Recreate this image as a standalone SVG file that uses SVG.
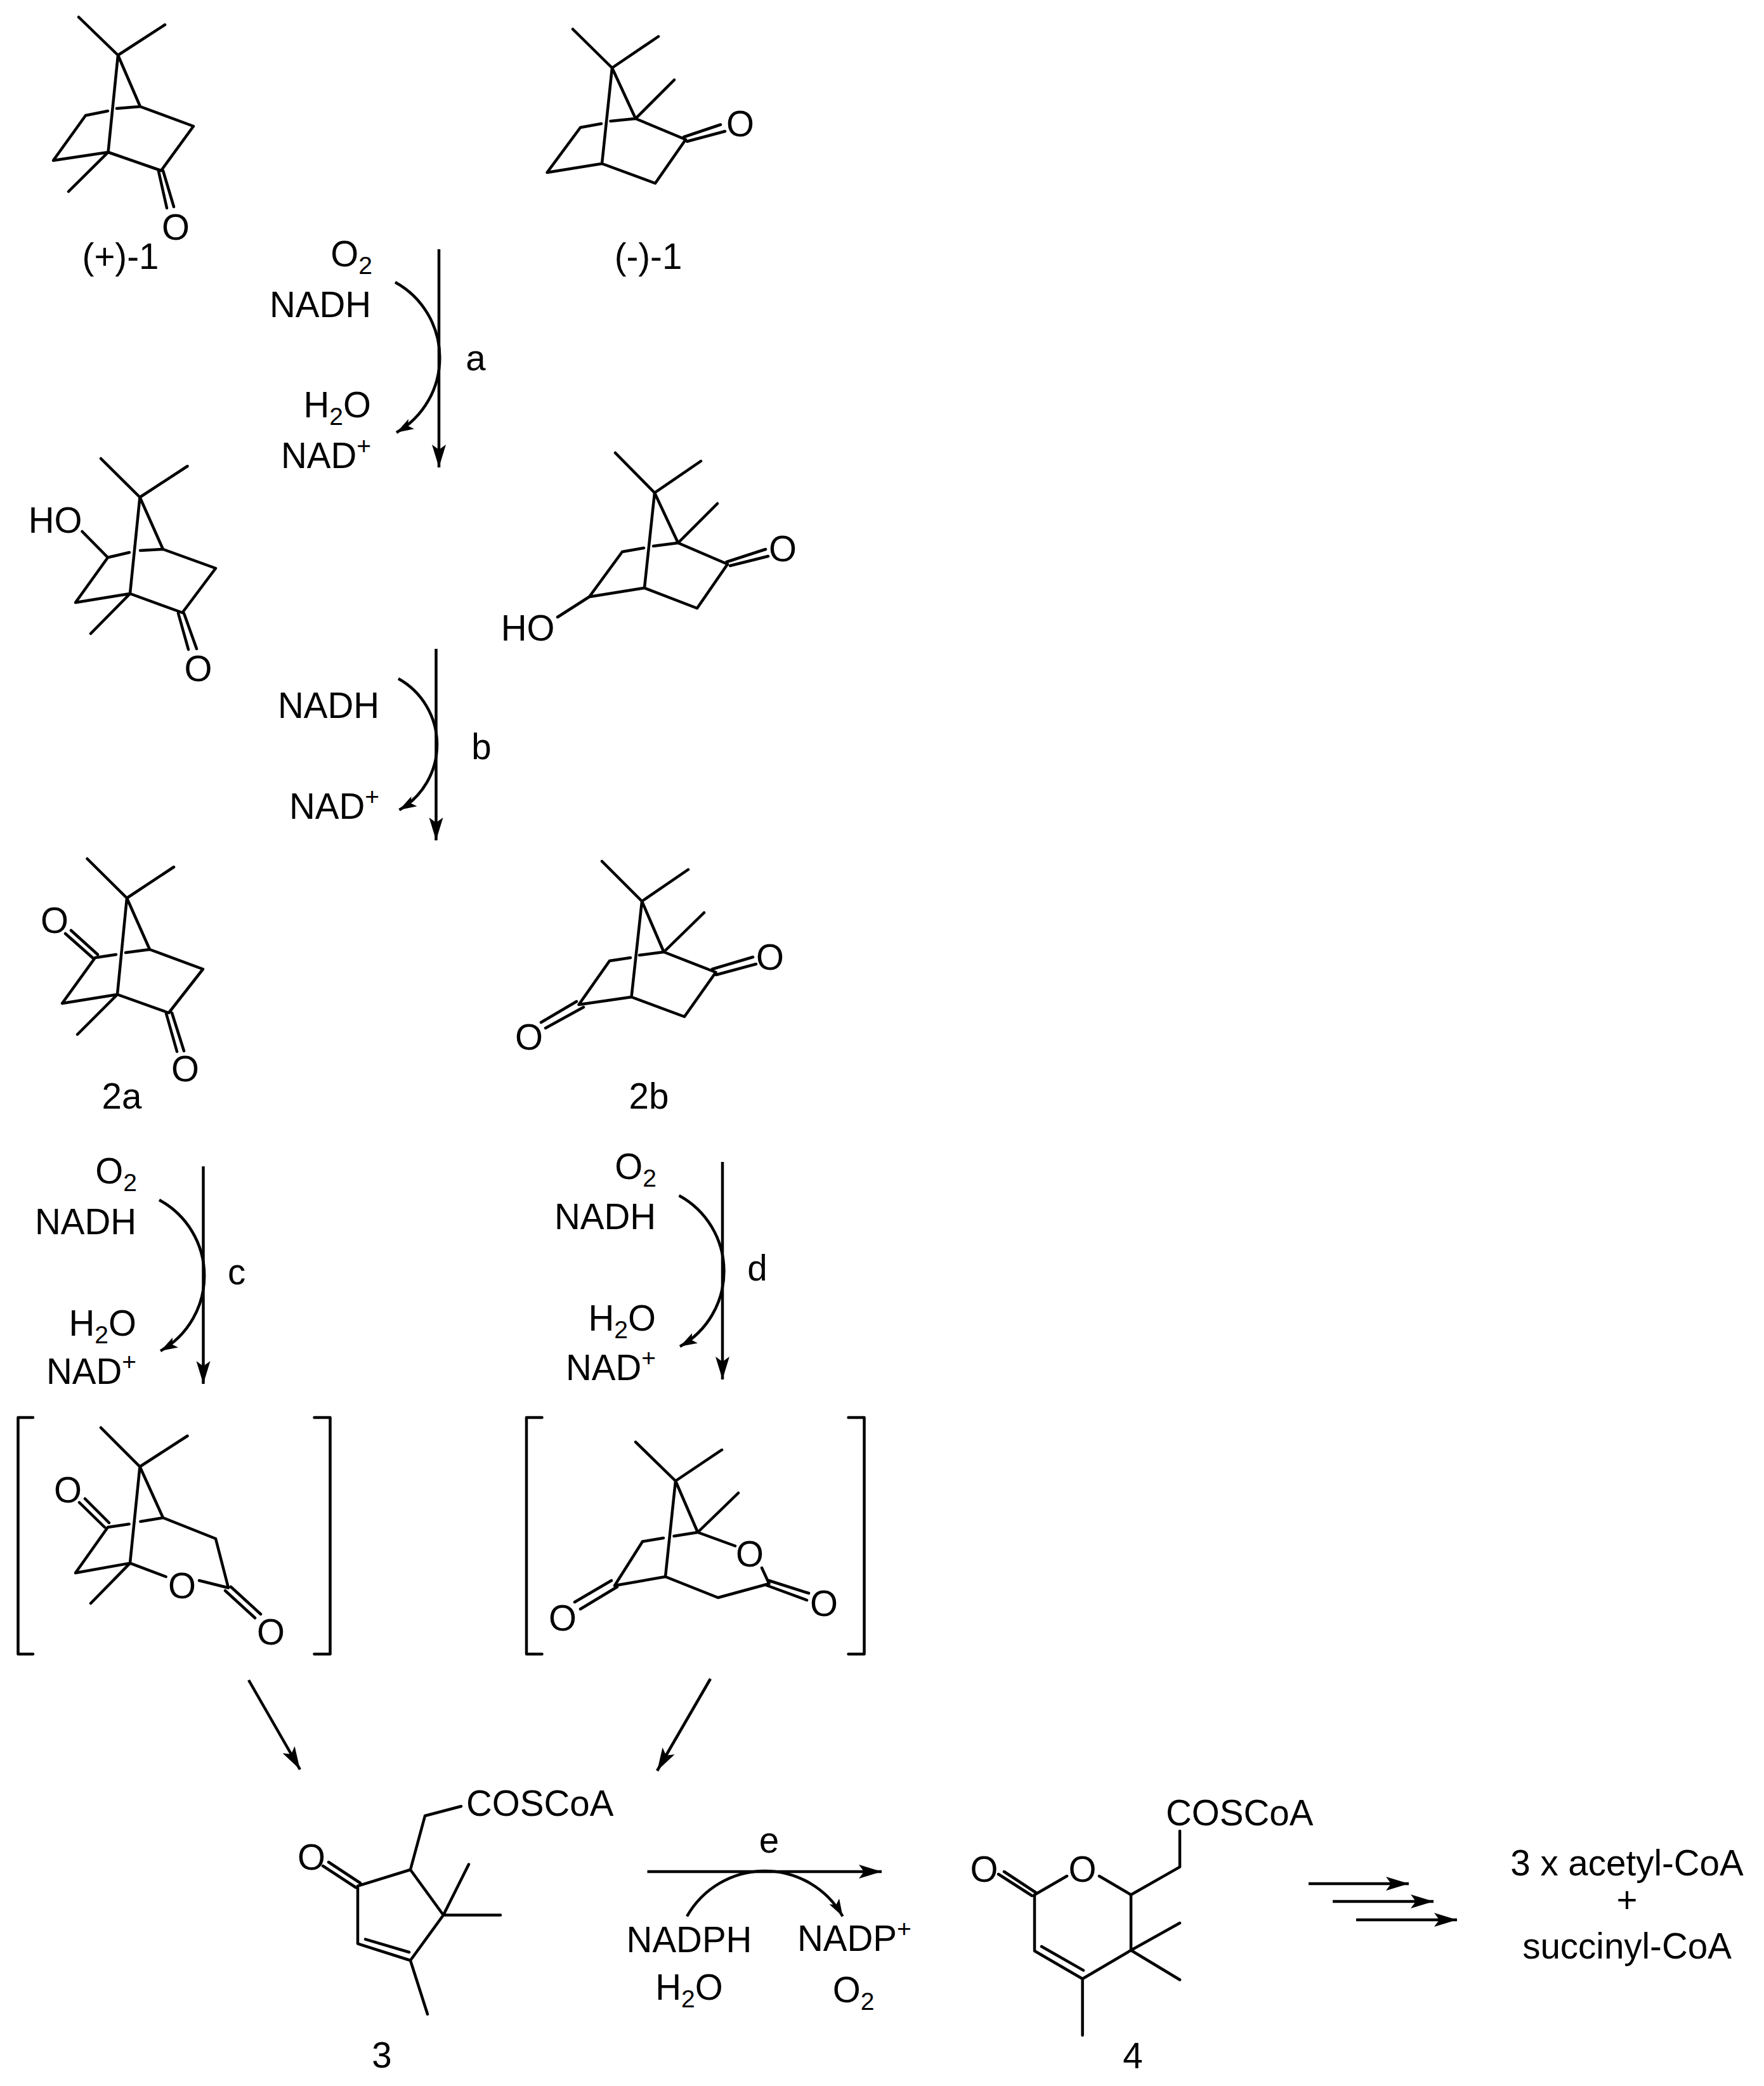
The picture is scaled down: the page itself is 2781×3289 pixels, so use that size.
<svg xmlns="http://www.w3.org/2000/svg" width="2781" height="3289" viewBox="0 0 2781 3289">
<defs>
<marker id="head" markerUnits="userSpaceOnUse" markerWidth="40" markerHeight="26" viewBox="0 0 40 26" refX="36" refY="13" orient="auto"><path d="M0 2 L36 13 L0 24 L8 13 Z" fill="#000"/></marker>
<marker id="head2" markerUnits="userSpaceOnUse" markerWidth="30" markerHeight="22" viewBox="0 0 30 22" refX="27" refY="11" orient="auto"><path d="M0 2 L27 11 L0 20 L6 11 Z" fill="#000"/></marker>
</defs>
<style>
.b{fill:none;stroke:#000;stroke-width:4.5;stroke-linecap:round;stroke-linejoin:round}
.a{fill:none;stroke:#000;stroke-width:4.500;marker-end:url(#head)}
.c{fill:none;stroke:#000;stroke-width:4.500;marker-end:url(#head2)}
text{font-family:"Liberation Sans",Arial,sans-serif;font-size:56.500px;fill:#000}
.e{text-anchor:end}
.m{text-anchor:middle}
.s{font-size:39px}
</style>
<rect width="2781" height="3289" fill="#fff"/>
<g id="connectors">
<path class="a" d="M692 393V737"/>
<path class="c" d="M623 445A136 136 0 0 1 625 682"/>
<path class="a" d="M687.500 1023V1325"/>
<path class="c" d="M628 1070A119 119 0 0 1 629.500 1277"/>
<path class="a" d="M320.500 1839V2182"/>
<path class="c" d="M251 1892A136 136 0 0 1 253 2130"/>
<path class="a" d="M1139 1832V2175"/>
<path class="c" d="M1070.500 1885A136 136 0 0 1 1072 2123"/>
<path class="a" d="M392 2649L473 2790"/>
<path class="a" d="M1120 2647L1036 2792"/>
<path class="a" d="M1020.500 2951H1390"/>
<path class="c" d="M1083 3021.500A141 141 0 0 1 1328.500 3021.500"/>
<path class="a" d="M2063 2970H2221"/>
<path class="a" d="M2101 2998H2260"/>
<path class="a" d="M2138 3027H2297"/>
</g>
<g id="camphor-plus">
<path class="b" d="M124 27L186 87L260 39M186 87L221 168L305 199L254 269L170.500 240L84 253L135 182L170 175M184 171L221 168M186 87L170.500 240L108 302M250 270L263 328M257 269L274 326"/>
<text class="m" x="277" y="378">O</text>
</g>
<g id="label-plus-1"><text class="m" x="190" y="424">(+)-1</text></g>
<g id="camphor-minus">
<path class="b" d="M903 46L965 107L1038 57.500M965 107L1002 187L1063 126M1002 187L1081 220L1033 289L949 258L862.500 272L915 201L948 195M962.500 191L1002 187M965 107L949 258M1078 216L1136 196.500M1083 223L1143 207"/>
<text class="m" x="1167" y="215">O</text>
</g>
<g id="label-minus-1"><text class="m" x="1022" y="424">(-)-1</text></g>
<g id="reagents-a">
<text class="e" x="587" y="420">O<tspan class="s" dy="12">2</tspan></text>
<text class="e" x="585" y="500">NADH</text>
<text class="e" x="585" y="658">H<tspan class="s" dy="12">2</tspan><tspan dy="-12">O</tspan></text>
<text class="e" x="585" y="738">NAD<tspan class="s" dy="-22">+</tspan></text>
<text class="m" x="750" y="584">a</text>
</g>
<g id="hydroxy-left">
<text class="m" x="87" y="840">HO</text>
<path class="b" d="M159 723L220.500 784L295.500 735M220.500 784L257 866L340 896L287.500 966L205 936L119 950L170 879L129.500 838M170 879L204 871M221 868L257 866M220.500 784L205 936L143 999M281 967L297 1024M290 967L310 1023"/>
<text class="m" x="312.500" y="1074">O</text>
</g>
<g id="hydroxy-right">
<path class="b" d="M970 714L1032 777L1105 727M1032 777L1069 856L1131 794M1069 856L1147 889.500L1099 959L1016 927L929 941L981 870L1015 864M1030 861L1069 856M1032 777L1016 927M929 941L879 973M1145.500 886L1207 866M1151 892L1211 877"/>
<text class="m" x="832" y="1010">HO</text>
<text class="m" x="1234" y="885">O</text>
</g>
<g id="reagents-b">
<text class="e" x="598" y="1132">NADH</text>
<text class="e" x="598" y="1291">NAD<tspan class="s" dy="-22">+</tspan></text>
<text class="m" x="759" y="1197">b</text>
</g>
<g id="diketone-2a">
<path class="b" d="M137.500 1354L200 1416L274 1367M200 1416L236 1497L320 1528L266 1597L185 1568L98 1582L150 1510L183 1505M198 1502L236 1497M200 1416L185 1568L122 1631M103 1472L147 1511M112 1467L154 1505M262 1598L279 1658M271 1597L290 1657"/>
<text class="m" x="86" y="1471">O</text>
<text class="m" x="292" y="1705">O</text>
</g>
<g id="label-2a"><text class="m" x="192" y="1748">2a</text></g>
<g id="diketone-2b">
<path class="b" d="M949 1358L1012 1421L1085 1371M1012 1421L1046.500 1501L1110 1439M1046.500 1501L1128.500 1533L1079 1603L995.500 1572L912.500 1584L961 1515L994 1510M1008 1506L1046.500 1501M1012 1421L995.500 1572M853 1612L909 1579M860 1621L920 1588M1123 1528L1187 1509M1129 1537L1192 1520"/>
<text class="m" x="834" y="1655">O</text>
<text class="m" x="1214" y="1529">O</text>
</g>
<g id="label-2b"><text class="m" x="1023" y="1748">2b</text></g>
<g id="reagents-c">
<text class="e" x="216" y="1866">O<tspan class="s" dy="12">2</tspan></text>
<text class="e" x="215" y="1946">NADH</text>
<text class="e" x="215" y="2106">H<tspan class="s" dy="12">2</tspan><tspan dy="-12">O</tspan></text>
<text class="e" x="215" y="2182">NAD<tspan class="s" dy="-22">+</tspan></text>
<text class="m" x="373" y="2025">c</text>
</g>
<g id="reagents-d">
<text class="e" x="1035" y="1859">O<tspan class="s" dy="12">2</tspan></text>
<text class="e" x="1034" y="1938">NADH</text>
<text class="e" x="1034" y="2098">H<tspan class="s" dy="12">2</tspan><tspan dy="-12">O</tspan></text>
<text class="e" x="1034" y="2176">NAD<tspan class="s" dy="-22">+</tspan></text>
<text class="m" x="1194" y="2019">d</text>
</g>
<g id="lactone-left">
<path class="b" d="M52 2235H28.500V2608H52M495.500 2235H520.500V2608H495.500" stroke-linecap="butt"/>
<path class="b" d="M159 2251L220.500 2312.500L295.500 2264M220.500 2312.500L257 2393L340 2426L360 2503.500L314 2492M261.600 2486L205 2464.600L119 2480L170 2408L203.600 2403M221.400 2399L257 2393M220.500 2312.500L205 2464.600L143 2528M125 2369L165 2408M134 2363L172 2401M355 2508L402 2551M364 2502L411 2545"/>
<text class="m" x="287" y="2520">O</text>
<text class="m" x="107" y="2369">O</text>
<text class="m" x="427" y="2593">O</text>
</g>
<g id="lactone-right">
<path class="b" d="M854.500 2235H830V2608H854.500M1337.500 2235H1362.500V2608H1337.500" stroke-linecap="butt"/>
<path class="b" d="M1002 2273.600L1065 2335L1138 2286M1065 2335L1100 2416L1164 2354M1100 2416L1159 2437.500M1201 2472L1212.500 2497L1132 2519L1049 2486L969 2500L1013 2430.500L1046 2425M1062.500 2422L1100 2416M1065 2335L1049 2486M906 2526L964 2492M915 2537L973 2502M1207 2499L1272 2523M1212 2492L1275 2512"/>
<text class="m" x="1182" y="2470">O</text>
<text class="m" x="887" y="2571">O</text>
<text class="m" x="1299" y="2548">O</text>
</g>
<g id="compound-3">
<text x="735" y="2863">COSCoA</text>
<path class="b" d="M727 2848L670 2863L647 2948L564 2973.600V3064.600L647 3091L699 3019.500L647 2948M699 3019.500L739 2939.600M699 3019.500H789M647 3091L674 3175.700M576 3057.600L645 3078M509 2942L561 2976M518 2936L568 2969"/>
<text class="m" x="491" y="2948">O</text>
</g>
<g id="label-3"><text class="m" x="602" y="3260">3</text></g>
<g id="reagents-e">
<text class="m" x="1212.500" y="2921">e</text>
<text class="m" x="1086.500" y="3078">NADPH</text>
<text class="m" x="1086.500" y="3153">H<tspan class="s" dy="12">2</tspan><tspan dy="-12">O</tspan></text>
<text x="1257" y="3076">NADP<tspan class="s" dy="-22">+</tspan></text>
<text class="m" x="1345.500" y="3157">O<tspan class="s" dy="12">2</tspan></text>
</g>
<g id="compound-4">
<text x="1838" y="2878">COSCoA</text>
<path class="b" d="M1860 2887V2943.600L1783 2987.500L1733 2958M1682 2958L1631 2987.500V3076L1706.600 3120L1783 3075V2987.500M1706.600 3120V3209M1783 3075L1860 3032M1783 3075L1860 3121.500M1642 3069L1708 3106.600M1574 2955L1627 2989M1583 2951L1633 2984"/>
<text class="m" x="1706.600" y="2967">O</text>
<text class="m" x="1551.500" y="2967">O</text>
</g>
<g id="label-4"><text class="m" x="1786" y="3261">4</text></g>
<g id="products">
<text class="m" x="2565" y="2957">3 x acetyl-CoA</text>
<text class="m" x="2565" y="3015">+</text>
<text class="m" x="2565" y="3088">succinyl-CoA</text>
</g>
</svg>
